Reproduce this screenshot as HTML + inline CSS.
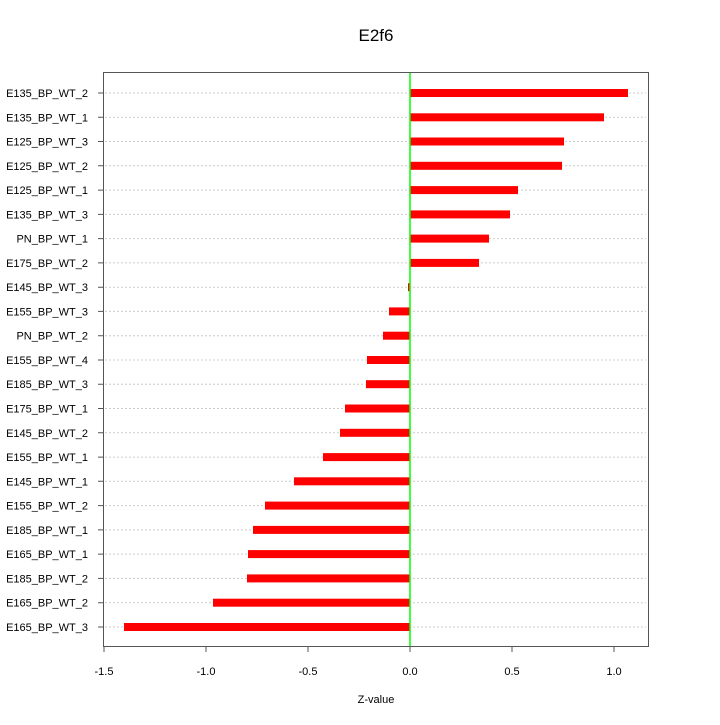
<!DOCTYPE html>
<html><head><style>body{margin:0;background:#fff}</style></head><body>
<svg width="720" height="720" xmlns="http://www.w3.org/2000/svg" font-family="Liberation Sans, sans-serif">
<rect width="720" height="720" fill="#fff"/>
<text x="376" y="41" font-size="17" text-anchor="middle">E2f6</text>
<path stroke="#ccc" stroke-dasharray="2,2" fill="none" d="M105 93H646M105 117.3H646M105 141.5H646M105 165.8H646M105 190.1H646M105 214.4H646M105 238.6H646M105 262.9H646M105 287.2H646M105 311.4H646M105 335.7H646M105 360H646M105 384.2H646M105 408.5H646M105 432.8H646M105 457.1H646M105 481.3H646M105 505.6H646M105 529.9H646M105 554.1H646M105 578.4H646M105 602.7H646M105 627H646"/>
<g fill="#ff0000">
<rect x="410" y="89" width="218" height="8"/>
<rect x="410" y="113.3" width="194" height="8"/>
<rect x="410" y="137.5" width="154" height="8"/>
<rect x="410" y="161.8" width="152" height="8"/>
<rect x="410" y="186.1" width="108" height="8"/>
<rect x="410" y="210.4" width="100" height="8"/>
<rect x="410" y="234.6" width="79" height="8"/>
<rect x="410" y="258.9" width="69" height="8"/>
<rect x="408" y="283.2" width="2" height="8"/>
<rect x="389" y="307.4" width="21" height="8"/>
<rect x="383" y="331.7" width="27" height="8"/>
<rect x="367" y="356" width="43" height="8"/>
<rect x="366" y="380.2" width="44" height="8"/>
<rect x="345" y="404.5" width="65" height="8"/>
<rect x="340" y="428.8" width="70" height="8"/>
<rect x="323" y="453.1" width="87" height="8"/>
<rect x="294" y="477.3" width="116" height="8"/>
<rect x="265" y="501.6" width="145" height="8"/>
<rect x="253" y="525.9" width="157" height="8"/>
<rect x="248" y="550.1" width="162" height="8"/>
<rect x="247" y="574.4" width="163" height="8"/>
<rect x="213" y="598.7" width="197" height="8"/>
<rect x="124" y="623" width="286" height="8"/>
</g>
<path stroke="#555" d="M98 93H103M98 117.3H103M98 141.5H103M98 165.8H103M98 190.1H103M98 214.4H103M98 238.6H103M98 262.9H103M98 287.2H103M98 311.4H103M98 335.7H103M98 360H103M98 384.2H103M98 408.5H103M98 432.8H103M98 457.1H103M98 481.3H103M98 505.6H103M98 529.9H103M98 554.1H103M98 578.4H103M98 602.7H103M98 627H103"/>
<g font-size="11" text-anchor="end">
<text x="88" y="97">E135_BP_WT_2</text>
<text x="88" y="121.3">E135_BP_WT_1</text>
<text x="88" y="145.5">E125_BP_WT_3</text>
<text x="88" y="169.8">E125_BP_WT_2</text>
<text x="88" y="194.1">E125_BP_WT_1</text>
<text x="88" y="218.4">E135_BP_WT_3</text>
<text x="88" y="242.6">PN_BP_WT_1</text>
<text x="88" y="266.9">E175_BP_WT_2</text>
<text x="88" y="291.2">E145_BP_WT_3</text>
<text x="88" y="315.4">E155_BP_WT_3</text>
<text x="88" y="339.7">PN_BP_WT_2</text>
<text x="88" y="364">E155_BP_WT_4</text>
<text x="88" y="388.2">E185_BP_WT_3</text>
<text x="88" y="412.5">E175_BP_WT_1</text>
<text x="88" y="436.8">E145_BP_WT_2</text>
<text x="88" y="461.1">E155_BP_WT_1</text>
<text x="88" y="485.3">E145_BP_WT_1</text>
<text x="88" y="509.6">E155_BP_WT_2</text>
<text x="88" y="533.9">E185_BP_WT_1</text>
<text x="88" y="558.1">E165_BP_WT_1</text>
<text x="88" y="582.4">E185_BP_WT_2</text>
<text x="88" y="606.7">E165_BP_WT_2</text>
<text x="88" y="631">E165_BP_WT_3</text>
</g>
<line x1="410" y1="72" x2="410" y2="646" stroke="#00ff00" stroke-width="1.5"/>
<rect x="103.5" y="72.5" width="545" height="574" fill="none" stroke="#555" stroke-width="1"/>
<g stroke="#555">
<line x1="104" y1="647" x2="104" y2="652"/><line x1="206" y1="647" x2="206" y2="652"/><line x1="308" y1="647" x2="308" y2="652"/><line x1="410" y1="647" x2="410" y2="652"/><line x1="512" y1="647" x2="512" y2="652"/><line x1="614" y1="647" x2="614" y2="652"/>
</g>
<g font-size="11" text-anchor="middle">
<text x="104" y="675">-1.5</text><text x="206" y="675">-1.0</text><text x="308" y="675">-0.5</text><text x="410" y="675">0.0</text><text x="512" y="675">0.5</text><text x="614" y="675">1.0</text>
</g>
<text x="376" y="703" font-size="11" text-anchor="middle">Z-value</text>
</svg>
</body></html>
